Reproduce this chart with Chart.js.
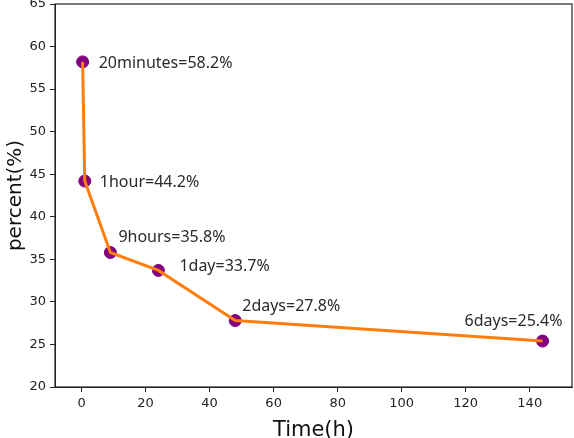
<!DOCTYPE html>
<html lang="en">
<head>
    <title>Retention</title>
    <script src="https://cdn.jsdelivr.net/npm/chart.js@4.4.0/dist/chart.umd.min.js"></script>
    <style>
        body { margin: 0; background: #fff; }
        #wrap { width: 574px; height: 438px; }
    </style>
</head>
<body>
<div id="wrap">
    <canvas id="retentionChart"></canvas>
</div>
<script>
const hours = [1 / 3, 1, 9, 24, 48, 144];
const percents = [58.2, 44.2, 35.8, 33.7, 27.8, 25.4];
const labels = ["20minutes=58.2%", "1hour=44.2%", "9hours=35.8%", "1day=33.7%", "2days=27.8%", "6days=25.4%"];
const xTicks = [0, 20, 40, 60, 80, 100, 120, 140];
const yTicks = [20, 25, 30, 35, 40, 45, 50, 55, 60, 65];

// label offsets from each point, in pixels
const labelOffsets = [[16, 2], [15, 1], [8, -15], [21, -4], [7, -14], [-78, -20]];

const points = hours.map((h, i) => ({ x: h, y: percents[i] }));

const annotate = {
  id: "annotate",
  afterDatasetsDraw(chart) {
    const ctx = chart.ctx;
    const area = chart.chartArea;
    const xs = chart.scales.x, ys = chart.scales.y;
    ctx.save();
    // box around the plot
    ctx.strokeStyle = "#222";
    ctx.lineWidth = 1.2;
    ctx.strokeRect(area.left, area.top, area.right - area.left, area.bottom - area.top);
    ctx.font = "16px 'Noto Sans', sans-serif";
    ctx.fillStyle = "#2a2a2a";
    ctx.textBaseline = "middle";
    labels.forEach((t, i) => {
      const px = xs.getPixelForValue(hours[i]) + labelOffsets[i][0];
      const py = ys.getPixelForValue(percents[i]) + labelOffsets[i][1];
      ctx.fillText(t, px, py);
    });
    ctx.restore();
  }
};

const ctx = document.getElementById("retentionChart").getContext("2d");
new Chart(ctx, {
  type: "scatter",
  data: {
    datasets: [
      {
        type: "line",
        data: points,
        borderColor: "#ff7f0e",
        borderWidth: 3,
        pointRadius: 0,
        fill: false,
        order: 0
      },
      {
        data: points,
        backgroundColor: "#800080",
        borderColor: "#800080",
        pointRadius: 6,
        order: 1
      }
    ]
  },
  options: {
    responsive: true,
    maintainAspectRatio: false,
    animation: false,
    layout: { autoPadding: false, padding: { top: 4, right: 2, left: 0, bottom: 0 } },
    plugins: { legend: { display: false }, tooltip: { enabled: false } },
    scales: {
      x: {
        type: "linear",
        min: -8.3,
        max: 153.2,
        afterBuildTicks: (axis) => { axis.ticks = xTicks.map(v => ({ value: v })); },
        afterFit: (axis) => { axis.height = 51; axis.paddingRight = 0; axis.paddingLeft = 0; },
        grid: { drawOnChartArea: false, tickLength: 5, color: "#222" },
        border: { color: "#222" },
        ticks: { color: "#222", font: { family: "DejaVu Sans", size: 13 }, padding: 4, maxRotation: 0 },
        title: { display: true, text: "Time(h)", color: "#111", font: { family: "DejaVu Sans", size: 21 }, padding: { top: 0, bottom: -5 } }
      },
      y: {
        min: 20,
        max: 65,
        afterBuildTicks: (axis) => { axis.ticks = yTicks.map(v => ({ value: v })); },
        afterFit: (axis) => { axis.width = 55; axis.paddingTop = 0; axis.paddingBottom = 0; },
        grid: { drawOnChartArea: false, tickLength: 5, color: "#222" },
        border: { color: "#222" },
        ticks: { color: "#222", font: { family: "DejaVu Sans", size: 13 }, padding: 4 },
        title: { display: true, text: "percent(%)", color: "#111", font: { family: "DejaVu Sans", size: 20 }, padding: { bottom: 2 } }
      }
    }
  },
  plugins: [annotate]
});
</script>
</body>
</html>
